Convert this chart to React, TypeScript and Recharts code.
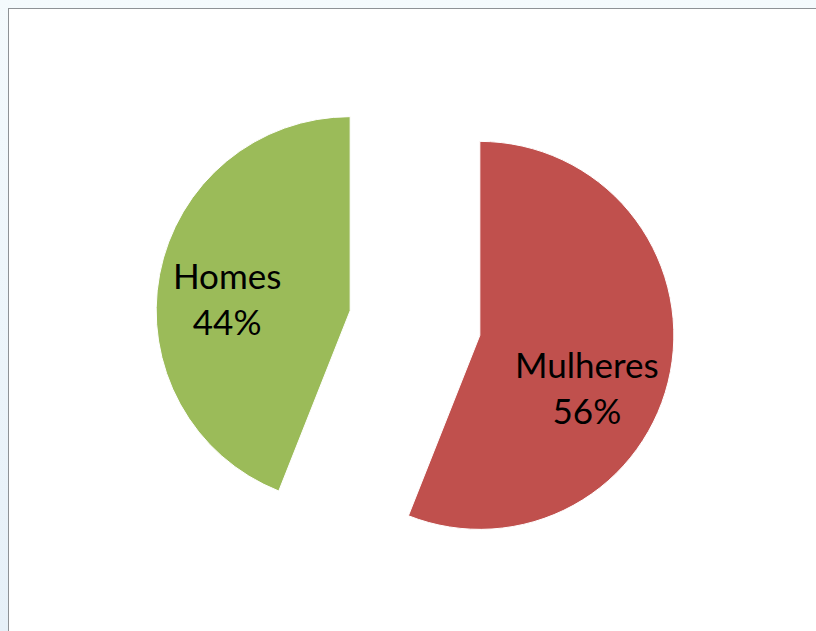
import React from "react";
import { PieChart, Pie, Cell, Sector } from "recharts";

const categories = ["Mulheres", "Homes"];
const values = [56, 44];
const colors = ["#C0504D", "#9BBB59"];

const data = categories.map((name, i) => ({ name, value: values[i] }));

const EXPLODE = 66;
const RAD = Math.PI / 180;

// small nudges so labels sit where the original put them
const labelNudge: Record<string, [number, number]> = {
  Mulheres: [-13, 32],
  Homes: [-3, 13],
};

function shift(midAngle: number) {
  return {
    dx: EXPLODE * Math.cos(-midAngle * RAD),
    dy: EXPLODE * Math.sin(-midAngle * RAD),
  };
}

function ExplodedSector(props: any) {
  const { dx, dy } = shift(props.midAngle);
  return <Sector {...props} cx={props.cx + dx} cy={props.cy + dy} />;
}

function SliceLabel(props: any) {
  const { cx, cy, midAngle, outerRadius, name, percent } = props;
  const { dx, dy } = shift(midAngle);
  const r = outerRadius * 0.63;
  const [nx, ny] = labelNudge[name] || [0, 0];
  const x = cx + dx + r * Math.cos(-midAngle * RAD) + nx;
  const y = cy + dy + r * Math.sin(-midAngle * RAD) + ny;
  return (
    <text
      x={x}
      y={y}
      textAnchor="middle"
      fill="#000"
      fontFamily="Lato, 'Open Sans', sans-serif"
      fontSize={35}
    >
      <tspan x={x} dy={-12}>{name}</tspan>
      <tspan x={x} dy={46}>{`${Math.round(percent * 100)}%`}</tspan>
    </text>
  );
}

export default function App() {
  return (
    <div
      style={{
        position: "absolute",
        left: 0,
        top: 0,
        width: 816,
        height: 631,
        background: "linear-gradient(180deg, #f4fafd 0%, #e6f0f8 100%)",
        overflow: "hidden",
      }}
    >
      <div
        style={{
          position: "absolute",
          left: 8,
          top: 8,
          width: 820,
          height: 640,
          background: "#ffffff",
          borderTop: "1px solid #8e9296",
          borderLeft: "1px solid #8e9296",
        }}
      >
        <PieChart width={807} height={622}>
          <Pie
            data={data}
            dataKey="value"
            nameKey="name"
            cx={401}
            cy={309}
            outerRadius={194}
            startAngle={90}
            endAngle={-270}
            stroke="#ffffff"
            strokeWidth={1}
            shape={ExplodedSector}
            label={SliceLabel}
            labelLine={false}
            isAnimationActive={false}
          >
            {data.map((d, i) => (
              <Cell key={d.name} fill={colors[i]} />
            ))}
          </Pie>
        </PieChart>
      </div>
    </div>
  );
}
